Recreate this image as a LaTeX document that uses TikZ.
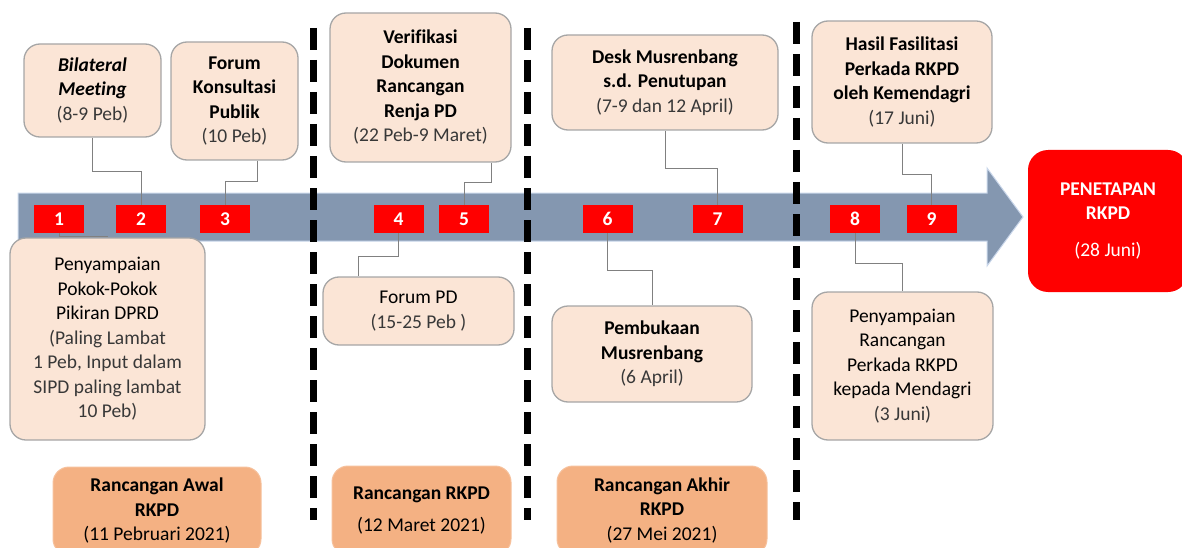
\documentclass[tikz,border=0pt]{standalone}
\usepackage{fontspec}
\setmainfont{Carlito}[Ligatures=CommonOff]
\definecolor{boxfill}{HTML}{FBE5D6}
\definecolor{boxline}{HTML}{A6A6A6}
\definecolor{orangefill}{HTML}{F4B183}
\definecolor{redfill}{HTML}{FF0000}
\definecolor{arrowc}{HTML}{8497B0}
\definecolor{arrowedge}{HTML}{C9D6EA}
\definecolor{tgray}{HTML}{383838}
\definecolor{conngray}{HTML}{808080}
\begin{document}
\begin{tikzpicture}[x=1pt,y=-1pt,
  evbox/.style={rounded corners=16pt, fill=boxfill, draw=boxline, line width=1.3pt,
    align=center, inner sep=0pt, font=\fontsize{19.5}{24.5}\selectfont},
  orbox/.style={rounded corners=16pt, fill=orangefill, draw=orangefill!80!white, line width=1pt,
    align=center, inner sep=0pt, font=\fontsize{19.5}{24.5}\selectfont},
  redbox/.style={rounded corners=20pt, fill=redfill, draw=none, text=white,
    align=center, inner sep=0pt, font=\fontsize{19.5}{24.5}\selectfont},
  numbox/.style={fill=redfill, draw=none, text=white, minimum width=50pt, minimum height=28pt,
    inner sep=0pt, font=\fontsize{19.5}{20}\selectfont\bfseries},
  conn/.style={draw=conngray, line width=1pt},
  divider/.style={line width=7pt, dash pattern=on 22pt off 10pt}
]
\useasboundingbox (0,0) rectangle (1182,548);

% timeline arrow
\filldraw[fill=arrowc, draw=arrowedge, line width=1pt]
  (18,193) -- (987,193) -- (987,168) -- (1023,217) -- (987,266) -- (987,241) -- (18,241) -- cycle;

% dashed dividers
\draw[divider] (313,28) -- (313,520);
\draw[divider] (527,28) -- (527,520);
\draw[divider] (796,22) -- (796,520);

% number boxes
\node[numbox] (n1) at (59,219) {1};
\node[numbox] (n2) at (141,219) {2};
\node[numbox] (n3) at (225,219) {3};
\node[numbox] (n4) at (398.5,219) {4};
\node[numbox] (n5) at (464,219) {5};
\node[numbox] (n6) at (607.5,219) {6};
\node[numbox] (n7) at (717.5,219) {7};
\node[numbox] (n8) at (855,219) {8};
\node[numbox] (n9) at (931.5,219) {9};

% upper boxes
\node[evbox, minimum width=137pt, minimum height=93pt] (b1) at (92.5,90.5)
  {\textbf{\textit{Bilateral}}\\\textbf{\textit{Meeting}}\\\textcolor{tgray}{(8-9 Peb)}};
\node[evbox, minimum width=127pt, minimum height=118pt] (b2) at (234.5,101)
  {\textbf{Forum}\\\textbf{Konsultasi}\\\textbf{Publik}\\\textcolor{tgray}{(10 Peb)}};
\node[evbox, minimum width=181pt, minimum height=149pt] (b3) at (420.5,87.5)
  {\textbf{Verifikasi}\\\textbf{Dokumen}\\\textbf{Rancangan}\\\textbf{Renja PD}\\\textcolor{tgray}{(22 Peb-9 Maret)}};
\node[evbox, minimum width=226pt, minimum height=95pt] (b4) at (665,82.5)
  {\textbf{Desk Musrenbang}\\\textbf{s.d. Penutupan}\\\textcolor{tgray}{(7-9 dan 12 April)}};
\node[evbox, minimum width=180pt, minimum height=122pt] (b5) at (902,82)
  {\textbf{Hasil Fasilitasi}\\\textbf{Perkada RKPD}\\\textbf{oleh Kemendagri}\\\textcolor{tgray}{(17 Juni)}};

% final box
\node[redbox, minimum width=160pt, minimum height=142pt] (p) at (1108,221)
  {\textbf{PENETAPAN}\\\textbf{RKPD}\\[12pt](28 Juni)};

% lower boxes
\node[evbox, minimum width=195pt, minimum height=202pt] (c1) at (107.5,339)
  {Penyampaian\\Pokok-Pokok\\Pikiran DPRD\\\textcolor{tgray}{(Paling Lambat}\\\textcolor{tgray}{1 Peb, Input dalam}\\\textcolor{tgray}{SIPD paling lambat}\\\textcolor{tgray}{10 Peb)}};
\node[evbox, minimum width=191pt, minimum height=68pt] (c2) at (418.5,311)
  {Forum PD\\\textcolor{tgray}{(15-25 Peb )}};
\node[evbox, minimum width=200pt, minimum height=96pt] (c3) at (652,354)
  {\textbf{Pembukaan}\\\textbf{Musrenbang}\\\textcolor{tgray}{(6 April)}};
\node[evbox, minimum width=181pt, minimum height=148pt] (c4) at (902.5,366)
  {Penyampaian\\Rancangan\\Perkada RKPD\\kepada Mendagri\\\textcolor{tgray}{(3 Juni)}};

% bottom orange boxes
\node[orbox, minimum width=208pt, minimum height=88pt] (o1) at (157,511)
  {\textbf{Rancangan Awal}\\\textbf{RKPD}\\(11 Pebruari 2021)};
\node[orbox, minimum width=179pt, minimum height=89pt] (o2) at (421.5,510.5)
  {\textbf{Rancangan RKPD}\\[8pt](12 Maret 2021)};
\node[orbox, minimum width=210pt, minimum height=89pt] (o3) at (662,510.5)
  {\textbf{Rancangan Akhir}\\\textbf{RKPD}\\(27 Mei 2021)};

% connectors
\draw[conn] (b1.south) -- ++(0,34) -| (n2.north);
\draw[conn] ([xshift=22.5pt]b2.south) -- ++(0,21) -| (n3.north);
\draw[conn] (n1.south) -- ++(0,3) -| (c1.north);
\draw[conn] ([xshift=70.5pt]b3.south) -- ++(0,20) -| (n5.north);
\draw[conn] (n4.south) -- ++(0,23) -| ([xshift=-60.5pt]c2.north);
\draw[conn] (b4.south) -- ++(0,38) -| (n7.north);
\draw[conn] (n6.south) -- ++(0,37) -| (c3.north);
\draw[conn] (b5.south) -- ++(0,31) -| (n9.north);
\draw[conn] (n8.south) -- ++(0,30) -| (c4.north);
\end{tikzpicture}
\end{document}
